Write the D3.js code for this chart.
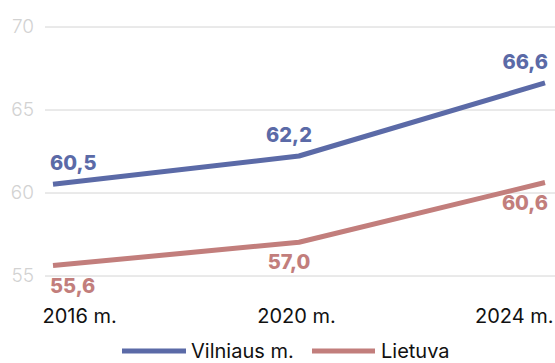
<!DOCTYPE html>
<html>
<head>
<meta charset="utf-8">
<script src="https://cdn.jsdelivr.net/npm/d3@7"></script>
<style>
  html, body { margin: 0; padding: 0; background: #fff; }
  svg { display: block; }
</style>
</head>
<body>
<svg id="chart" width="555" height="363"></svg>
<script>
// Share of population (%) by survey year
const years = ["2016 m.", "2020 m.", "2024 m."];
const vilnius = [60.5, 62.2, 66.6];
const lietuva = [55.6, 57.0, 60.6];
const yTicks = [55, 60, 65, 70];
const seriesNames = ["Vilniaus m.", "Lietuva"];
const seriesColors = ["#5b6aa7", "#c27e7c"];

const svg = d3.select("#chart");
const W = 555;

const x = d3.scalePoint().domain(years).range([53, 545]);
const y = d3.scaleLinear().domain([55, 70]).range([275.5, 26.5]);

const fmt = v => d3.format(".1f")(v).replace(".", ",");

// Horizontal gridlines with tick labels
const yAxis = d3.axisLeft(y).tickValues(yTicks).tickSize(-(W - 45)).tickPadding(11);
const gy = svg.append("g").attr("transform", "translate(45,0)").call(yAxis);
gy.select(".domain").remove();
gy.selectAll(".tick line").attr("stroke", "#d4d4d4").attr("stroke-width", 1);
gy.selectAll(".tick text")
  .attr("fill", "#d2d2d2")
  .style("font-family", "Inter, 'Noto Sans', sans-serif")
  .style("font-weight", 300)
  .style("font-size", "19px");

// Year labels along the bottom
const xAxis = d3.axisBottom(x).tickSize(0).tickPadding(0);
const gx = svg.append("g").attr("transform", "translate(0,309)").call(xAxis);
gx.select(".domain").remove();
gx.selectAll(".tick text")
  .attr("fill", "#111")
  .attr("dy", "0.71em")
  .style("font-family", "Inter, 'Noto Sans', sans-serif")
  .style("font-weight", 400)
  .style("font-size", "20px")
  .attr("text-anchor", (d, i) => i === 0 ? "start" : i === years.length - 1 ? "end" : "middle")
  .attr("x", (d, i) => i === 0 ? -11 : i === years.length - 1 ? 8 : -3);

const line = d3.line()
  .x((d, i) => x(years[i]))
  .y(d => y(d));

const series = [vilnius, lietuva];
series.forEach((vals, s) => {
  svg.append("path")
    .datum(vals)
    .attr("d", line)
    .attr("fill", "none")
    .attr("stroke", seriesColors[s])
    .attr("stroke-width", 5)
    .attr("stroke-linejoin", "round");

  // Value labels: above the line for Vilnius, below for Lietuva
  svg.append("g").selectAll("text")
    .data(vals)
    .join("text")
    .attr("x", (d, i) => x(years[i]) + (i === 0 ? -3 : i === vals.length - 1 ? 3 : -10))
    .attr("y", d => s === 0 ? y(d) - 14 : y(d) + 27)
    .attr("text-anchor", (d, i) => i === 0 ? "start" : i === vals.length - 1 ? "end" : "middle")
    .attr("fill", seriesColors[s])
    .style("font-family", "Inter, 'Noto Sans', sans-serif")
    .style("font-weight", 800)
    .style("font-size", "20px")
    .text(d => fmt(d));
});

// Legend
const legendItems = [
  { x0: 122, x1: 186, tx: 191 },
  { x0: 312, x1: 375, tx: 381 }
];
legendItems.forEach((it, s) => {
  svg.append("line")
    .attr("x1", it.x0).attr("x2", it.x1)
    .attr("y1", 351).attr("y2", 351)
    .attr("stroke", seriesColors[s])
    .attr("stroke-width", 5);
  svg.append("text")
    .attr("x", it.tx).attr("y", 351)
    .attr("dy", "0.35em")
    .attr("fill", "#111")
    .style("font-family", "Inter, 'Noto Sans', sans-serif")
    .style("font-size", "20px")
    .text(seriesNames[s]);
});
</script>
</body>
</html>
